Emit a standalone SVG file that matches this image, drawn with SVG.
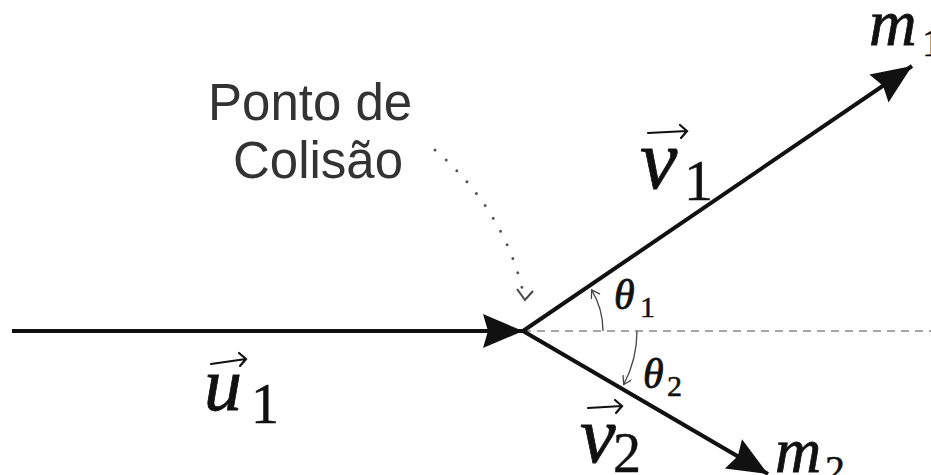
<svg xmlns="http://www.w3.org/2000/svg" width="931" height="475" viewBox="0 0 931 475">
<style>
.vec{stroke:#111;stroke-width:4;fill:none}
.math{font-family:"Liberation Serif","Times New Roman",serif;font-style:italic;fill:#111;stroke:#111;stroke-width:0.8}
.num{font-family:"Liberation Serif","Times New Roman",serif;font-style:normal;fill:#111;stroke:#111;stroke-width:0.5}
.label{font-family:"Liberation Sans",Arial,sans-serif;font-size:51px;fill:#333}
.arc{stroke:#444;stroke-width:1.3;fill:none}
.dash{stroke:#888;stroke-width:1.5;stroke-dasharray:8 6;fill:none}
.dots{stroke:#555;stroke-width:3;stroke-linecap:round;stroke-dasharray:0 15;fill:none}
.over{stroke:#111;stroke-width:2.2;fill:none;stroke-linecap:round}
</style>
<defs>
<marker id="big" markerUnits="userSpaceOnUse" markerWidth="42" markerHeight="36" refX="40" refY="17" orient="auto">
<path d="M0,0 L40,17 L0,34 L5,17 z" fill="#111"/>
</marker>
<marker id="small" markerUnits="userSpaceOnUse" markerWidth="12" markerHeight="12" refX="9" refY="5" orient="auto">
<path d="M1,0 L9,5 L1,10" fill="none" stroke="#444" stroke-width="1.3"/>
</marker>
</defs>
<g id="connectors">
<line class="dash" x1="523" y1="331" x2="931" y2="331"/>
<line class="vec" x1="12" y1="331" x2="523" y2="331" marker-end="url(#big)"/>
<line class="vec" x1="523" y1="331" x2="912" y2="66" marker-end="url(#big)"/>
<line class="vec" x1="523" y1="331" x2="768" y2="474" marker-end="url(#big)"/>
<path class="arc" d="M603,331 A80,80 0 0 0 591.6,289.8" marker-end="url(#small)"/>
<path class="arc" d="M637,331 A114,114 0 0 1 623.7,384.5" marker-end="url(#small)"/>
<path class="dots" d="M435,150 Q505,210 524,296"/>
<path d="M517,289 L525,300 L533,291" fill="none" stroke="#444" stroke-width="2"/>
</g>
<g id="label-ponto">
<text class="label" x="208" y="120">Ponto de</text>
<text class="label" x="233" y="178">Colisão</text>
</g>
<g id="label-u1">
<text class="math" x="204" y="410" font-size="76">u</text>
<text class="num" x="251" y="423" font-size="56">1</text>
<path class="over" d="M211,364 L246,359 M239,353 L246,359 L240,366"/>
</g>
<g id="label-v1">
<text class="math" x="640" y="188" font-size="84">v</text>
<text class="num" x="684" y="200" font-size="58">1</text>
<path class="over" d="M648,133 L687,131 M680,125 L687,131 L681,138"/>
</g>
<g id="label-v2">
<text class="math" x="580" y="462" font-size="80">v</text>
<text class="num" x="613" y="472" font-size="56">2</text>
<path class="over" d="M588,408 L622,406 M615,400 L622,406 L616,413"/>
</g>
<g id="label-m1">
<text class="math" x="869" y="45" font-size="66">m</text>
<text class="num" x="922" y="56" font-size="40">1</text>
</g>
<g id="label-m2">
<text class="math" x="775" y="472" font-size="64">m</text>
<text class="num" x="825" y="483" font-size="40">2</text>
</g>
<g id="label-theta1">
<text class="math" x="614" y="309" font-size="42">θ</text>
<text class="num" x="640" y="317" font-size="30">1</text>
</g>
<g id="label-theta2">
<text class="math" x="643" y="388" font-size="42">θ</text>
<text class="num" x="667" y="396" font-size="30">2</text>
</g>
</svg>
